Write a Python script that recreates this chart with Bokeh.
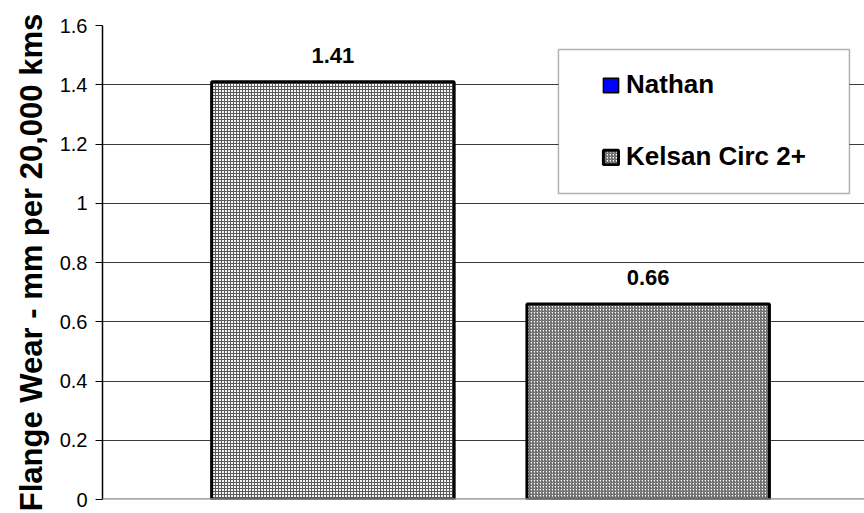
from bokeh.plotting import figure
from bokeh.models import (ColumnDataSource, Range1d, FixedTicker, Span, Legend,
                          LegendItem, BoxAnnotation)
from bokeh.embed import file_html
from bokeh.resources import INLINE
from bokeh.core.properties import value

# ---- data ----
series_names = ["Nathan", "Kelsan Circ 2+"]
bar_labels = ["1.41", "0.66"]
bar_values = [1.41, 0.66]
bar_positions = [0.0, 1.3]
ytick_values = [0, 0.2, 0.4, 0.6, 0.8, 1.0, 1.2, 1.4, 1.6]
ytick_labels = ["0", "0.2", "0.4", "0.6", "0.8", "1", "1.2", "1.4", "1.6"]
y_title = "Flange Wear - mm per 20,000 kms"

FONT = "Liberation Sans"

p = figure(width=864, height=512, output_backend="svg", toolbar_location=None,
           x_range=Range1d(-0.95, 2.192), y_range=Range1d(0, 1.6),
           min_border_left=102, min_border_right=0, min_border_top=25,
           min_border_bottom=13)
p.outline_line_color = None
p.background_fill_color = "white"
p.border_fill_color = "white"

p.xaxis.visible = False
p.xgrid.visible = False
p.ygrid.grid_line_color = "#3a3a3a"
p.ygrid.grid_line_width = 1

ax = p.yaxis[0]
ax.ticker = FixedTicker(ticks=ytick_values)
ax.major_label_overrides = {t: l for t, l in zip(ytick_values, ytick_labels)}
ax.minor_tick_line_color = None
ax.major_tick_in = 0
ax.major_tick_out = 7
ax.major_tick_line_color = "black"
ax.axis_line_color = "black"
ax.axis_line_width = 1.5
ax.major_label_text_font = FONT
ax.major_label_text_font_size = "20px"
ax.major_label_text_color = "black"
ax.major_label_standoff = 8
ax.axis_label = y_title
ax.axis_label_text_font = FONT
ax.axis_label_text_font_size = "31px"
ax.axis_label_text_font_style = "bold"
ax.axis_label_text_color = "black"
ax.axis_label_standoff = 8

# bars
src1 = ColumnDataSource(dict(x=[bar_positions[0]], top=[bar_values[0]], label=[bar_labels[0]]))
src2 = ColumnDataSource(dict(x=[bar_positions[1]], top=[bar_values[1]], label=[bar_labels[1]]))

p.vbar(x="x", top="top", width=1.0, source=src1, fill_color="#f4f4f4",
       hatch_pattern="cross", hatch_scale=3, hatch_color="#5a5a5a", hatch_weight=1,
       line_color="black", line_width=3)
r_kelsan = p.vbar(x="x", top="top", width=1.0, source=src2, fill_color="white",
                  hatch_pattern="right_diagonal_line", hatch_scale=3,
                  hatch_color="#555555", hatch_weight=1.1,
                  line_color="black", line_width=3)
# Nathan series (no visible bar in this chart, shown in the legend only)
nan = float("nan")
r_nathan = p.vbar(x=[nan], top=[nan], width=1.0, fill_color="#0000ff",
                  line_color="black", line_width=1.5)

for s in (src1, src2):
    p.text(x="x", y="top", text="label", source=s, text_align="center",
           text_baseline="alphabetic", y_offset=-26, text_font=value(FONT),
           text_font_size="22px", text_font_style="bold", text_color="black")

# zero line
p.add_layout(Span(location=0, dimension="width", line_color="#8a8a8a", line_width=2.5))

# legend box
p.add_layout(BoxAnnotation(left=0.930, right=2.130, bottom=1.033, top=1.519,
                           fill_color="white", fill_alpha=1.0,
                           line_color="black", line_width=1.5, level="overlay"))

legend = Legend(items=[LegendItem(label=series_names[0], renderers=[r_nathan]),
                       LegendItem(label=series_names[1], renderers=[r_kelsan])],
                location=(499, 327), padding=0, margin=0, spacing=41,
                label_height=30, glyph_width=19, glyph_height=18,
                label_standoff=6, label_text_font=FONT,
                label_text_font_size="26px", label_text_font_style="bold",
                label_text_color="black", border_line_color=None,
                background_fill_alpha=0.0)
p.add_layout(legend)

open("out.html", "w").write(file_html(p, INLINE))
